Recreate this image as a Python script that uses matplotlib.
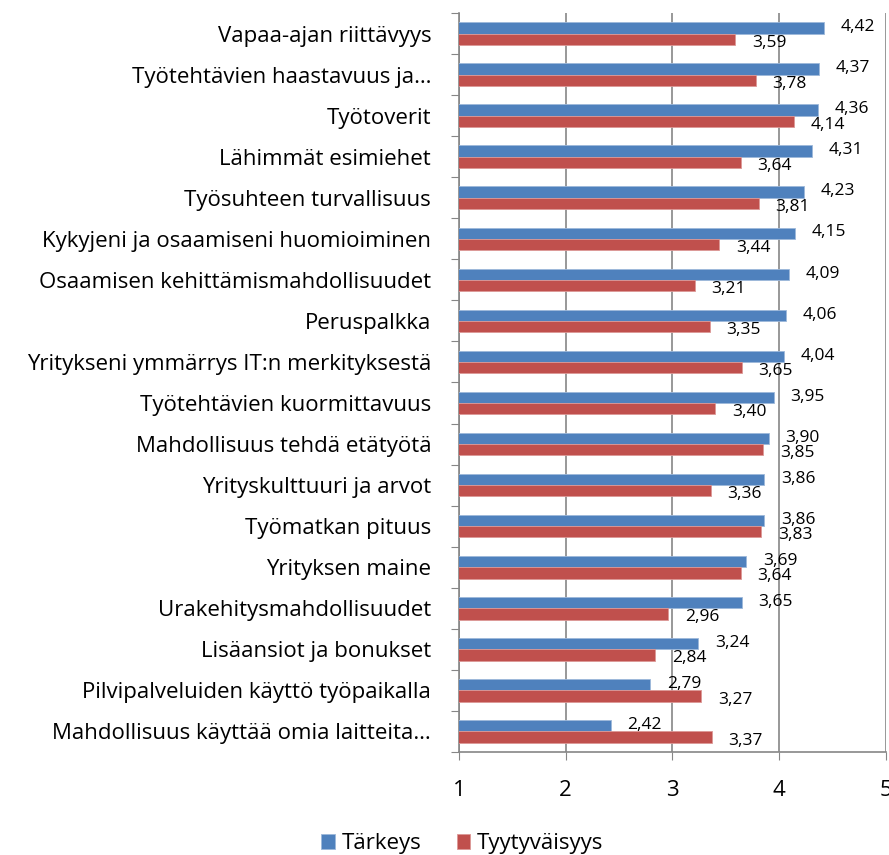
import matplotlib.pyplot as plt
import numpy as np

plt.rcParams['font.family'] = ['Open Sans', 'DejaVu Sans']

categories = [
    "Vapaa-ajan riittävyys",
    "Työtehtävien haastavuus ja…",
    "Työtoverit",
    "Lähimmät esimiehet",
    "Työsuhteen turvallisuus",
    "Kykyjeni ja osaamiseni huomioiminen",
    "Osaamisen kehittämismahdollisuudet",
    "Peruspalkka",
    "Yritykseni ymmärrys IT:n merkityksestä",
    "Työtehtävien kuormittavuus",
    "Mahdollisuus tehdä etätyötä",
    "Yrityskulttuuri ja arvot",
    "Työmatkan pituus",
    "Yrityksen maine",
    "Urakehitysmahdollisuudet",
    "Lisäansiot ja bonukset",
    "Pilvipalveluiden käyttö työpaikalla",
    "Mahdollisuus käyttää omia laitteita…",
]
tarkeys = [4.42, 4.37, 4.36, 4.31, 4.23, 4.15, 4.09, 4.06, 4.04, 3.95,
           3.90, 3.86, 3.86, 3.69, 3.65, 3.24, 2.79, 2.42]
tyytyvaisyys = [3.59, 3.78, 4.14, 3.64, 3.81, 3.44, 3.21, 3.35, 3.65, 3.40,
                3.85, 3.36, 3.83, 3.64, 2.96, 2.84, 3.27, 3.37]
series_names = ["Tärkeys", "Tyytyväisyys"]

blue = "#4F81BD"
red = "#C0504D"
gray = "#868686"

fig = plt.figure(figsize=(8.89, 8.55), dpi=100)
ax = fig.add_axes([459 / 889, 1 - 752 / 855, (886 - 459) / 889, (752 - 13) / 855])

n = len(categories)
y = np.arange(n)[::-1]  # first category on top
h = 0.275

b1 = ax.barh(y + h / 2, tarkeys, height=h, color=blue, edgecolor="#9DB8DA",
             linewidth=0.6, label=series_names[0], zorder=3)
b2 = ax.barh(y - h / 2, tyytyvaisyys, height=h, color=red, edgecolor="#DC9896",
             linewidth=0.6, label=series_names[1], zorder=3)

for yi, v in zip(y, tarkeys):
    ax.annotate(f"{v:.2f}".replace(".", ","), (v, yi + h / 2), xytext=(12, 0.5),
                textcoords="offset points", ha="left", va="center",
                fontsize=12.5, zorder=4)
for yi, v in zip(y, tyytyvaisyys):
    ax.annotate(f"{v:.2f}".replace(".", ","), (v, yi - h / 2), xytext=(12, -2.5),
                textcoords="offset points", ha="left", va="center",
                fontsize=12.5, zorder=4)

ax.set_xlim(1, 5)
ax.set_ylim(-0.5, n - 0.5)
ax.set_xticks([1, 2, 3, 4, 5])
ax.set_xticklabels(["1", "2", "3", "4", "5"], fontsize=16)
ax.tick_params(axis="x", length=6, color=gray, pad=14)

# category ticks at boundaries, labels at centres
ax.set_yticks(np.arange(n + 1) - 0.5)
ax.set_yticklabels([])
ax.set_yticks(y, minor=True)
ax.set_yticklabels(categories, minor=True, fontsize=16)
ax.tick_params(axis="y", which="major", length=6, color=gray)
ax.tick_params(axis="y", which="minor", length=0, pad=20)

ax.grid(axis="x", color=gray, linewidth=1.2, zorder=0)
for s in ["top", "right"]:
    ax.spines[s].set_visible(False)
for s in ["left", "bottom"]:
    ax.spines[s].set_color(gray)
    ax.spines[s].set_linewidth(1.2)

fig.legend(handles=[b1, b2], labels=series_names, loc="center",
           bbox_to_anchor=(0.52, 0.013), ncol=2, frameon=False, fontsize=16,
           handlelength=0.6, handleheight=0.6, handletextpad=0.3,
           columnspacing=1.6)

fig.savefig("out.png", dpi=100)
